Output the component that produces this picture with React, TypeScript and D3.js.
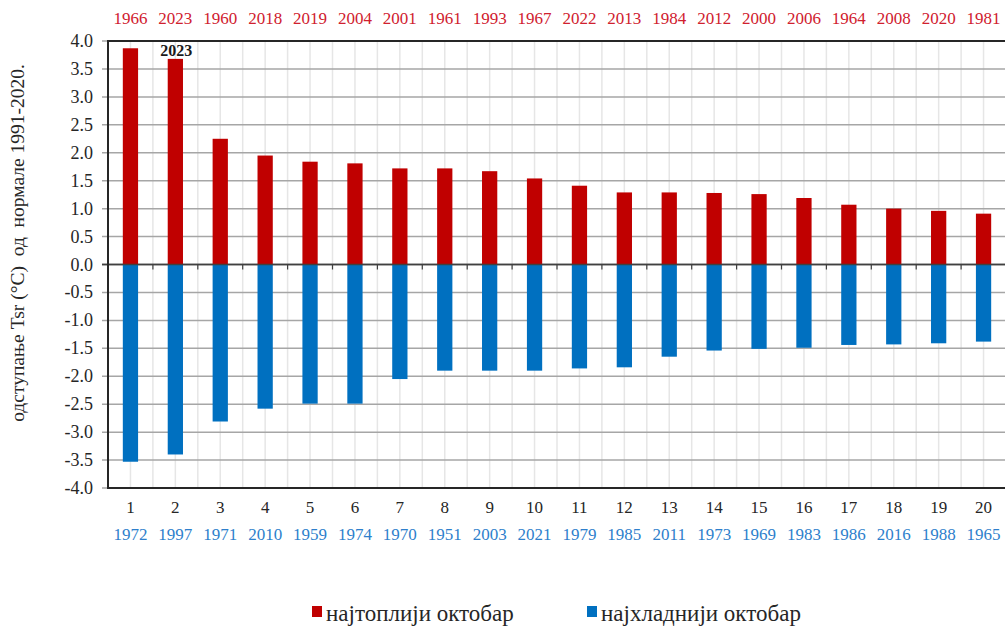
import React from "react";
import * as d3 from "d3";

const ranks = ["1","2","3","4","5","6","7","8","9","10","11","12","13","14","15","16","17","18","19","20"];
const warmYears = ["1966","2023","1960","2018","2019","2004","2001","1961","1993","1967","2022","2013","1984","2012","2000","2006","1964","2008","2020","1981"];
const coldYears = ["1972","1997","1971","2010","1959","1974","1970","1951","2003","2021","1979","1985","2011","1973","1969","1983","1986","2016","1988","1965"];
const warmValues = [3.87,3.68,2.25,1.95,1.84,1.81,1.72,1.72,1.67,1.54,1.41,1.29,1.29,1.28,1.26,1.19,1.07,1.00,0.96,0.91];
const coldValues = [-3.53,-3.40,-2.81,-2.58,-2.49,-2.49,-2.05,-1.90,-1.90,-1.90,-1.86,-1.84,-1.65,-1.54,-1.51,-1.49,-1.44,-1.43,-1.41,-1.38];
const yTicks = [4,3.5,3,2.5,2,1.5,1,0.5,0,-0.5,-1,-1.5,-2,-2.5,-3,-3.5,-4];
const highlightLabel = "2023";
const legendLabels = ["најтоплији октобар", "најхладнији октобар"];
const yAxisTitle = "одступање Tsr (°C)\u00a0\u00a0од\u00a0\u00a0нормале 1991-2020.";

const W = 1005, H = 628;
const left = 108, right = 1006, top = 41, bottom = 488;
const FONT = "'Liberation Serif', 'Times New Roman', 'DejaVu Serif', serif";
const RED = "#c00000", BLUE = "#0070c0";

export default function App() {
  const x = d3.scaleBand<string>().domain(ranks).range([left, right]).paddingInner(0).paddingOuter(0);
  const y = d3.scaleLinear().domain([-4, 4]).range([bottom, top]);
  const bw = x.bandwidth();
  const barW = bw * 0.34;
  const minor: number[] = [];
  ranks.forEach((r) => { minor.push(x(r)!); minor.push(x(r)! + bw / 2); });
  minor.push(right);

  return (
    <svg width={W} height={H} style={{ position: "absolute", left: 0, top: 0, background: "#fff" }} fontFamily={FONT}>
      <rect x={0} y={0} width={W} height={H} fill="#fff" />
      {minor.map((mx, i) => (
        <line key={"v" + i} x1={mx} x2={mx} y1={top} y2={bottom} stroke="#e6e6e6" strokeWidth={1.5} />
      ))}
      {yTicks.map((t) => (
        <line key={"h" + t} x1={left - 6} x2={right} y1={y(t)} y2={y(t)} stroke={t === 0 ? "#404040" : "#a6a6a6"} strokeWidth={1.5} />
      ))}
      {warmValues.map((v, i) => (
        <rect key={"w" + i} x={x(ranks[i])! + bw / 2 - barW / 2} width={barW} y={y(v)} height={y(0) - y(v)} fill={RED} />
      ))}
      {coldValues.map((v, i) => (
        <rect key={"c" + i} x={x(ranks[i])! + bw / 2 - barW / 2} width={barW} y={y(0)} height={y(v) - y(0)} fill={BLUE} />
      ))}
      <line x1={left - 6} x2={right} y1={y(0)} y2={y(0)} stroke="#404040" strokeWidth={1.5} />
      {ranks.map((r, i) => (
        <line key={"zt" + i} x1={x(r)!} x2={x(r)!} y1={y(0)} y2={y(0) + 5} stroke="#404040" strokeWidth={1.2} />
      ))}
      <line x1={left} x2={right} y1={top} y2={top} stroke="#262626" strokeWidth={2} />
      <line x1={left} x2={right} y1={bottom} y2={bottom} stroke="#262626" strokeWidth={2} />
      <line x1={left} x2={left} y1={top - 1} y2={bottom + 1} stroke="#262626" strokeWidth={2} />
      {yTicks.map((t) => (
        <text key={"yl" + t} x={93} y={y(t) + 6} textAnchor="end" fontSize={18} fill="#262626">{t.toFixed(1)}</text>
      ))}
      {ranks.map((r, i) => (
        <g key={"xl" + i}>
          <text x={x(r)! + bw / 2} y={24} textAnchor="middle" fontSize={17} fill="#d0202e">{warmYears[i]}</text>
          <text x={x(r)! + bw / 2} y={513} textAnchor="middle" fontSize={17} fill="#262626">{r}</text>
          <text x={x(r)! + bw / 2} y={540} textAnchor="middle" fontSize={17} fill="#2e7fcc">{coldYears[i]}</text>
        </g>
      ))}
      <text x={x(ranks[1])! + bw / 2 + 1} y={y(warmValues[1]) - 3} textAnchor="middle" fontSize={16} fontWeight="bold" fill="#1a1a1a">{highlightLabel}</text>
      <text transform={`translate(24,243) rotate(-90)`} textAnchor="middle" fontSize={19.5} fill="#262626">{yAxisTitle}</text>
      <rect x={312} y={606} width={10} height={11} fill={RED} />
      <text x={326} y={621} fontSize={23} fill="#262626">{legendLabels[0]}</text>
      <rect x={587} y={606} width={10} height={11} fill={BLUE} />
      <text x={601} y={621} fontSize={23} fill="#262626">{legendLabels[1]}</text>
    </svg>
  );
}
